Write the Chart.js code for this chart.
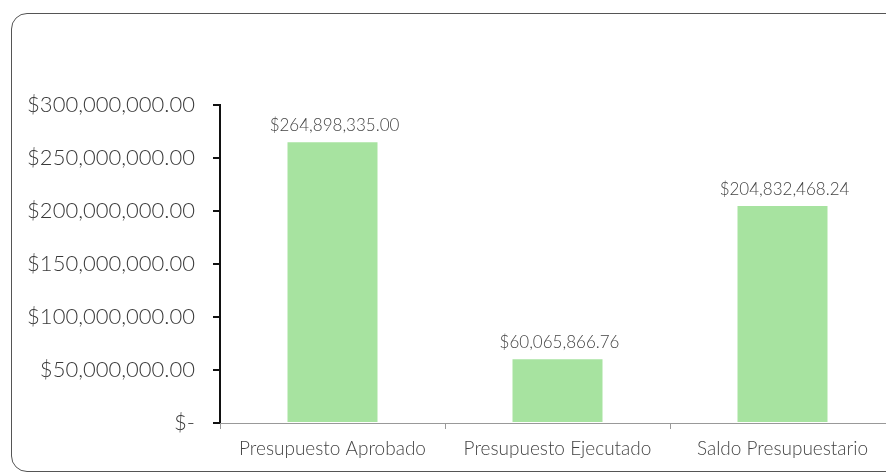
<!DOCTYPE html>
<html>
<head>
<meta charset="utf-8">
<script src="https://cdn.jsdelivr.net/npm/chart.js@4.4.1/dist/chart.umd.min.js"></script>
<style>
  html, body { margin: 0; padding: 0; background: #fff; overflow: hidden; width: 886px; height: 474px; }
  #frame { position: absolute; left: 11px; top: 13px; width: 890px; height: 457px; border: 1.5px solid #555; border-radius: 16px; }
  #wrap { position: absolute; left: 0; top: 0; width: 900px; height: 474px; }
</style>
</head>
<body>
<div id="frame"></div>
<div id="wrap"><canvas id="c"></canvas></div>
<script>
const categories = ["Presupuesto Aprobado", "Presupuesto Ejecutado", "Saldo Presupuestario"];
const values = [264898335.00, 60065866.76, 204832468.24];
const valueLabels = ["$264,898,335.00", "$60,065,866.76", "$204,832,468.24"];
const yTickValues = [0, 50000000, 100000000, 150000000, 200000000, 250000000, 300000000];
const yTickLabels = ["$-", "$50,000,000.00", "$100,000,000.00", "$150,000,000.00", "$200,000,000.00", "$250,000,000.00", "$300,000,000.00"];

const FONT = "Lato, 'Open Sans', 'DejaVu Sans', sans-serif";

const valueLabelPlugin = {
  id: 'valueLabels',
  afterDatasetsDraw(chart) {
    const ctx = chart.ctx;
    const meta = chart.getDatasetMeta(0);
    ctx.save();
    ctx.font = "300 17px " + FONT;
    ctx.fillStyle = "#444";
    ctx.textAlign = "center";
    ctx.textBaseline = "bottom";
    meta.data.forEach((bar, i) => {
      ctx.fillText(valueLabels[i], bar.x + 2, bar.y - 8);
    });
    ctx.restore();
  }
};

const canvas = document.getElementById('c');
canvas.width = 900; canvas.height = 474;

new Chart(canvas, {
  type: 'bar',
  data: {
    labels: categories,
    datasets: [{
      data: values,
      backgroundColor: '#a7e3a0',
      borderWidth: 0,
      barPercentage: 0.4,
      categoryPercentage: 1.0
    }]
  },
  options: {
    responsive: false,
    animation: false,
    devicePixelRatio: 1,
    layout: { padding: { top: 105, right: 5, left: 0, bottom: 0 } },
    plugins: { legend: { display: false }, tooltip: { enabled: false }, title: { display: false } },
    scales: {
      y: {
        min: 0, max: 300000000,
        afterBuildTicks(scale) { scale.ticks = yTickValues.map(v => ({ value: v })); },
        afterFit(scale) { scale.width = 220; },
        ticks: {
          callback: (v) => yTickLabels[yTickValues.indexOf(v)],
          font: { family: FONT, size: 22, weight: '300' },
          color: '#3a3a3a',
          padding: 18
        },
        grid: { drawOnChartArea: false, tickLength: 7, color: '#111', lineWidth: 2 },
        border: { display: true, color: '#111', width: 2 }
      },
      x: {
        afterFit(scale) { scale.height = 51; },
        ticks: {
          font: { family: FONT, size: 19, weight: '300' },
          color: '#444',
          padding: 8
        },
        grid: { drawOnChartArea: false, tickLength: 6, color: '#999', lineWidth: 1, offset: true },
        border: { display: true, color: '#999', width: 1 }
      }
    }
  },
  plugins: [valueLabelPlugin]
});
</script>
</body>
</html>
